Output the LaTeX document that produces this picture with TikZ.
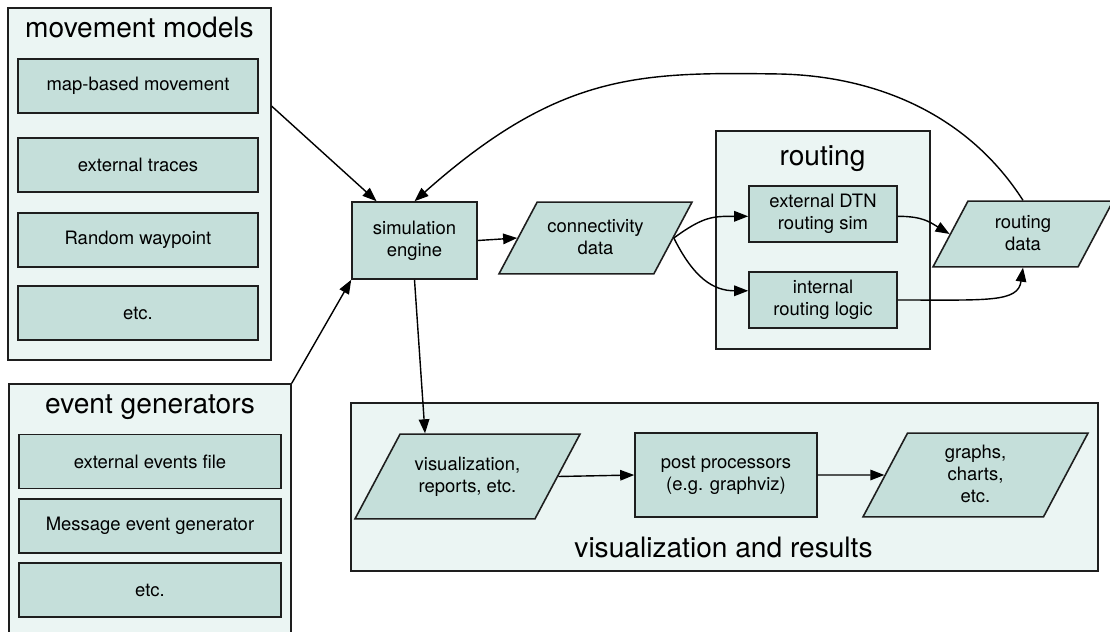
\documentclass[tikz,border=0pt]{standalone}
\usepackage{fontspec}
\setmainfont{TeX Gyre Heros}
\usepackage{xcolor}
\usepackage{tikz}
\usetikzlibrary{calc,shapes.geometric,arrows.meta}
\definecolor{panelfill}{HTML}{EBF5F3}
\definecolor{boxfill}{HTML}{C5DFDA}
\definecolor{edgeline}{HTML}{1E1E1E}

\begin{document}
\begin{tikzpicture}[x=0.02cm,y=-0.02cm]
  \tikzset{panel/.style={draw=edgeline,fill=panelfill,line width=0.9pt,inner sep=0pt},
           item/.style={draw=edgeline,fill=boxfill,line width=0.9pt,align=center,inner sep=0pt,font=\fontsize{10.5}{12.5}\selectfont},
           mbox/.style={item,minimum width=4.8cm,minimum height=1.08cm},
           ebox/.style={item,minimum width=5.24cm,minimum height=1.08cm},
           rbox/.style={item,minimum width=2.96cm,minimum height=1.12cm},
           data/.style={item,trapezium,trapezium left angle=62,trapezium right angle=118,trapezium stretches body,
                        text height=20.5pt,text depth=2pt},
           title/.style={anchor=base,font=\fontsize{16}{18}\selectfont},
           flow/.style={-{Triangle[length=8pt,width=6pt]},line width=0.8pt}};
  \useasboundingbox (0,0) rectangle (1110,632);
  % movement models
  \node[panel,minimum width=5.26cm,minimum height=7.04cm] (mm) at (139.5,184){};
  \node[title] (mmT) at (139.5,37){movement models};
  \node[mbox] (mm1) at (138,86){map-based movement};
  \node[mbox] (mm2) at (138,165){external traces};
  \node[mbox] (mm3) at (138,240){Random waypoint};
  \node[mbox] (mm4) at (138,313){etc.};
  % event generators
  \node[panel,minimum width=5.64cm,minimum height=5.32cm] (ev) at (150,517){};
  \node[title] (evT) at (150,413){event generators};
  \node[ebox] (ev1) at (150,461.5){external events file};
  \node[ebox] (ev2) at (150,526){Message event generator};
  \node[ebox] (ev3) at (150,590){etc.};
  % engine
  \node[item,minimum width=2.5cm,minimum height=1.54cm] (sim) at (414.5,240.5){simulation\\engine};
  \node[data,minimum width=3.86cm,inner ysep=9.15pt] (conn) at (595.5,238){connectivity\\data};
  % routing
  \node[panel,minimum width=4.28cm,minimum height=4.36cm] (rt) at (823,240){};
  \node[title] (rtT) at (822.5,165){routing};
  \node[rbox] (ext) at (823,214){external DTN\\routing sim};
  \node[rbox] (int) at (823,300){internal\\routing logic};
  \node[data,minimum width=3.6cm,inner ysep=7.45pt] (rdata) at (1023,234){routing\\data};
  % visualization
  \node[panel,minimum width=14.94cm,minimum height=3.36cm] (vr) at (724.5,487){};
  \node[title] (vrT) at (723.5,557){visualization and results};
  \node[data,minimum width=4.5cm,inner ysep=12.85pt] (vis) at (467.5,476.5){visualization,\\reports, etc.};
  \node[item,minimum width=3.64cm,minimum height=1.68cm] (post) at (726,475){post processors\\(e.g. graphviz)};
  \node[data,minimum width=4.5cm,text height=33pt,inner ysep=6.3pt] (graphs) at (975.5,475){graphs,\\charts,\\etc.};

  \draw[flow] ($(mm.north east)!0.28!(mm.south east)$) -- ($(sim.north west)!0.2!(sim.north east)$);
  \draw[flow] (ev.north east) -- (sim.south west);
  \draw[flow] (rdata.center |- rdata.north) .. controls (965,110) and (870,76) .. (780,74)
              .. controls (640,72) and (560,72) .. (sim.north);
  \draw[flow] (sim.east) -- (conn.west);
  \draw[flow] (conn.east) .. controls +(30,-22) and +(-35,0) .. ($(ext.north west)!0.54!(ext.south west)$);
  \draw[flow] (conn.east) .. controls +(20,40) and +(-35,0) .. ($(int.north west)!0.34!(int.south west)$);
  \draw[flow] ($(ext.north east)!0.54!(ext.south east)$) .. controls +(25,0) and +(-20,-12) .. (rdata.west);
  \draw[flow] (int.east) .. controls +(90,0) and +(-5,35) .. (rdata.center |- rdata.south);
  \draw[flow] (sim.south) -- ($(vis.top left corner)!0.14!(vis.top right corner)$);
  \draw[flow] (vis.east) -- (post.west);
  \draw[flow] (post.east) -- (graphs.west);
\end{tikzpicture}
\end{document}
